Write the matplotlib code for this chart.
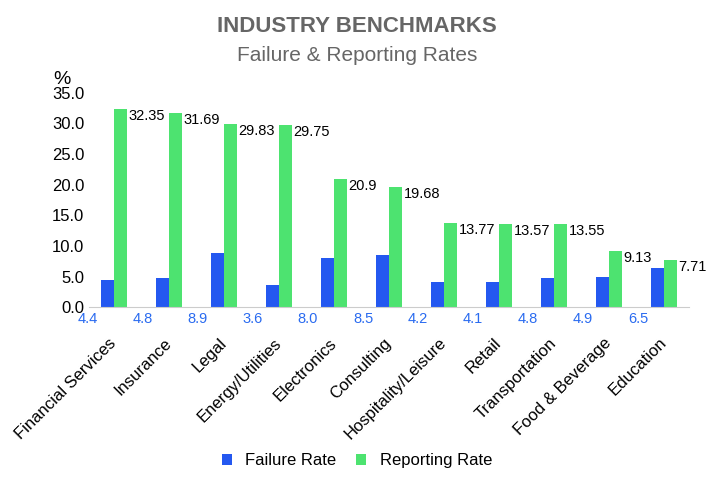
import matplotlib.pyplot as plt
import numpy as np

industries = ['Financial Services', 'Insurance', 'Legal', 'Energy/Utilities', 'Electronics',
              'Consulting', 'Hospitality/Leisure', 'Retail', 'Transportation',
              'Food & Beverage', 'Education']
failure = [4.4, 4.8, 8.9, 3.6, 8.0, 8.5, 4.2, 4.1, 4.8, 4.9, 6.5]
reporting = [32.35, 31.69, 29.83, 29.75, 20.9, 19.68, 13.77, 13.57, 13.55, 9.13, 7.71]
failure_labels = ['4.4', '4.8', '8.9', '3.6', '8.0', '8.5', '4.2', '4.1', '4.8', '4.9', '6.5']
reporting_labels = ['32.35', '31.69', '29.83', '29.75', '20.9', '19.68', '13.77', '13.57',
                    '13.55', '9.13', '7.71']

plt.rcParams['font.family'] = 'Liberation Sans'
fig = plt.figure(figsize=(7.14, 4.88), dpi=100)
ax = fig.add_axes([0.125, 0.37, 0.84, 0.44])

x = np.arange(len(industries))
w = 0.24
ax.bar(x - w / 2, failure, w, color='#2458f0', label='Failure Rate')
ax.bar(x + w / 2, reporting, w, color='#4de370', label='Reporting Rate')

for i in x:
    ax.text(i - w - 0.05, -0.8, failure_labels[i], color='#2a6bf0', fontsize=10.5,
            ha='right', va='top')
    ax.text(i + w + 0.02, reporting[i], reporting_labels[i], color='black', fontsize=10.5,
            ha='left', va='top')

ax.set_ylim(0, 35)
ax.set_xlim(-0.45, len(industries) - 0.55)
ax.set_yticks(np.arange(0, 36, 5))
ax.set_yticklabels(['%.1f' % v for v in np.arange(0, 36, 5)], fontsize=12)
ax.set_xticks(x - 0.1)
ax.set_xticklabels(industries, rotation=45, ha='right', rotation_mode='anchor', fontsize=12)
ax.tick_params(axis='x', length=0, pad=20)
ax.tick_params(axis='y', length=0)
for s in ['top', 'right', 'left']:
    ax.spines[s].set_visible(False)
ax.spines['bottom'].set_color('#cccccc')
ax.text(-0.06, 1.02, '%', transform=ax.transAxes, fontsize=14, ha='left', va='bottom')

fig.text(0.5, 0.935, 'INDUSTRY BENCHMARKS', ha='center', fontsize=16, fontweight='bold',
         color='#666666')
fig.text(0.5, 0.875, 'Failure & Reporting Rates', ha='center', fontsize=15, color='#666666')
fig.legend(loc='lower center', bbox_to_anchor=(0.5, 0.01), ncol=2, frameon=False,
           fontsize=12, handlelength=0.6, handleheight=0.6, columnspacing=1.2)

fig.savefig('out.png', dpi=100)
